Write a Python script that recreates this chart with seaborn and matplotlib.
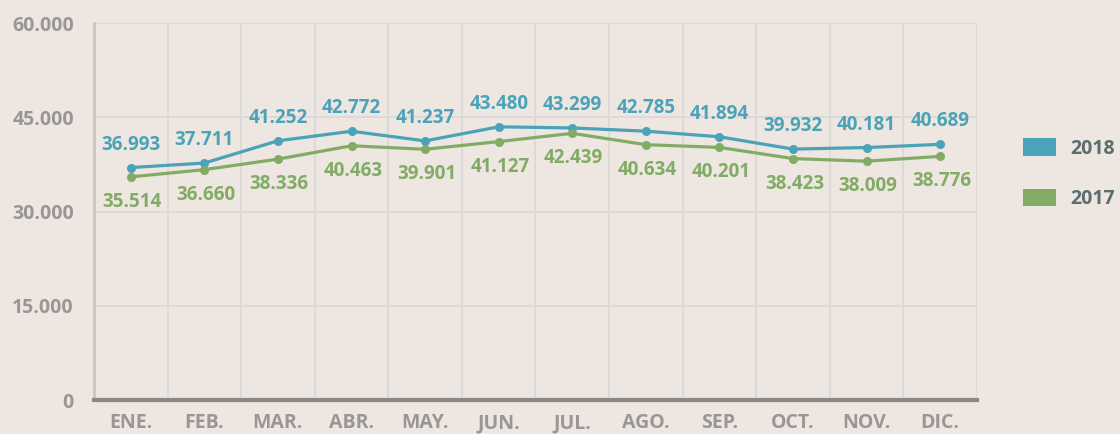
import matplotlib
matplotlib.use("Agg")
import matplotlib.pyplot as plt
from matplotlib.patches import Patch
from matplotlib.ticker import FuncFormatter, FixedLocator
import seaborn as sns
import pandas as pd
import numpy as np

meses = ["ENE.", "FEB.", "MAR.", "ABR.", "MAY.", "JUN.",
         "JUL.", "AGO.", "SEP.", "OCT.", "NOV.", "DIC."]
valores_2018 = [36993, 37711, 41252, 42772, 41237, 43480,
                43299, 42785, 41894, 39932, 40181, 40689]
valores_2017 = [35514, 36660, 38336, 40463, 39901, 41127,
                42439, 40634, 40201, 38423, 38009, 38776]
series = ["2018", "2017"]
y_ticks = [0, 15000, 30000, 45000, 60000]

fondo = "#EDE6E1"
azul = "#4AA3B8"
verde = "#82AC65"
gris_texto = "#9A9696"

def miles(v, pos=None):
    return f"{int(round(v)):,}".replace(",", ".")

df = pd.DataFrame({
    "mes": meses * 2,
    "valor": valores_2018 + valores_2017,
    "año": [series[0]] * 12 + [series[1]] * 12,
})

sns.set_theme(style="white")
plt.rcParams["font.family"] = ["Open Sans", "DejaVu Sans"]

fig = plt.figure(figsize=(11.2, 4.34), dpi=100, facecolor=fondo)
ax = fig.add_axes([0.0839, 0.0783, 0.7884, 0.8687])
ax.set_facecolor(fondo)

sns.lineplot(data=df, x="mes", y="valor", hue="año", hue_order=series,
             palette={"2018": azul, "2017": verde}, marker="o",
             markersize=6.5, markeredgewidth=0, linewidth=2.3,
             legend=False, sort=False, ax=ax)

ax.set_xlim(-0.5, len(meses) - 0.5)
ax.set_ylim(0, 60000)
ax.set_xlabel("")
ax.set_ylabel("")

# gridlines at category boundaries and at each y tick
ax.xaxis.set_minor_locator(FixedLocator(np.arange(-0.5, len(meses), 1.0)))
ax.set_xticks(range(len(meses)))
ax.set_xticklabels(meses)
ax.set_yticks(y_ticks)
ax.yaxis.set_major_formatter(FuncFormatter(miles))
ax.grid(False)
ax.grid(True, axis="x", which="minor", color="#DCDAD8", linewidth=1.4)
ax.grid(True, axis="y", which="major", color="#DCDAD8", linewidth=1.4)
ax.set_axisbelow(True)

ax.tick_params(axis="x", which="major", length=0, pad=9.5)
ax.tick_params(axis="x", which="minor", length=5, width=2.5,
               color="#888888", direction="out")
ax.tick_params(axis="y", which="major", length=4.5, width=1.4,
               color="#D0CECC", pad=10)
for lbl in ax.get_xticklabels() + ax.get_yticklabels():
    lbl.set_fontweight("bold")
    lbl.set_fontsize(14)
    lbl.set_color(gris_texto)

for s in ["top", "right"]:
    ax.spines[s].set_visible(False)
ax.spines["left"].set_color("#C8C6C4")
ax.spines["left"].set_linewidth(2)
ax.spines["bottom"].set_color("#888888")
ax.spines["bottom"].set_linewidth(3)

# value labels: 2018 above the line, 2017 below
for i, (a, b) in enumerate(zip(valores_2018, valores_2017)):
    ax.annotate(miles(a), (i, a), xytext=(0, 16.5),
                textcoords="offset points", ha="center", va="center",
                color=azul, fontsize=13.5, fontweight="bold")
    ax.annotate(miles(b), (i, b), xytext=(1, -18),
                textcoords="offset points", ha="center", va="center",
                color=verde, fontsize=13.5, fontweight="bold")

handles = [Patch(facecolor=azul, edgecolor="none"),
           Patch(facecolor=verde, edgecolor="none")]
fig.legend(handles, series, loc="center left", bbox_to_anchor=(0.9134, 0.600),
           frameon=False, borderpad=0, borderaxespad=0,
           handlelength=1.7, handleheight=1.0,
           labelspacing=1.55, handletextpad=0.72,
           prop={"size": 14, "weight": "bold"}, labelcolor="#5A6E6E")

fig.savefig("out.png", dpi=100, facecolor=fondo)
